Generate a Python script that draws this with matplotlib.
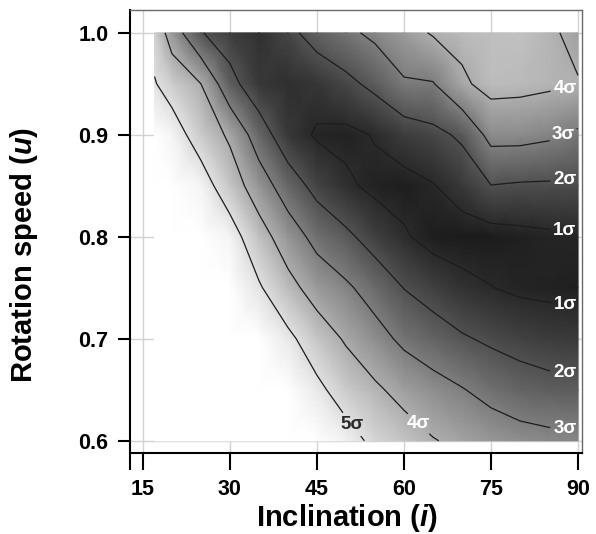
import numpy as np
import matplotlib.pyplot as plt
from matplotlib.colors import PowerNorm

plt.rcParams['font.family'] = ['Liberation Sans', 'DejaVu Sans']
plt.rcParams['font.weight'] = 'bold'
plt.rcParams['axes.labelweight'] = 'bold'
plt.rcParams['mathtext.fontset'] = 'custom'
plt.rcParams['mathtext.it'] = 'Liberation Sans:italic:bold'
plt.rcParams['mathtext.rm'] = 'Liberation Sans:bold'

# grid of the fit (sigma)
incl = [17, 20, 25, 30, 35, 40, 45, 50, 55, 60, 65, 70, 75, 80, 85, 90]
speed = [0.60, 0.65, 0.70, 0.75, 0.80, 0.85, 0.90, 0.95, 1.00]

sig_060 = [9.00, 8.80, 8.50, 8.10, 7.60, 6.90, 6.00, 5.35, 4.80, 4.45, 4.05, 3.80, 3.55, 3.35, 3.25, 3.20]
sig_065 = [8.60, 8.40, 8.10, 7.70, 7.10, 6.00, 5.20, 4.60, 4.15, 3.70, 3.35, 3.05, 2.70, 2.45, 2.30, 2.25]
sig_070 = [8.00, 7.90, 7.60, 7.10, 6.20, 5.20, 4.50, 3.90, 3.35, 2.80, 2.45, 2.10, 1.85, 1.65, 1.50, 1.45]
sig_075 = [7.50, 7.30, 6.90, 6.20, 5.10, 4.30, 3.60, 3.15, 2.60, 1.98, 1.60, 1.25, 1.02, 0.85, 0.80, 0.75]
sig_080 = [7.00, 6.80, 6.20, 5.40, 4.40, 3.50, 2.70, 2.20, 1.60, 1.10, 0.70, 0.60, 0.65, 0.75, 0.85, 0.90]
sig_085 = [6.30, 6.00, 5.40, 4.50, 3.50, 2.50, 1.70, 1.15, 0.80, 0.70, 0.95, 1.40, 1.98, 1.90, 1.88, 1.85]
sig_090 = [5.60, 5.40, 4.60, 3.85, 2.50, 1.40, 0.90, 0.80, 1.05, 1.50, 1.75, 2.15, 3.30, 3.30, 3.15, 2.85]
sig_095 = [5.05, 4.65, 4.00, 2.30, 1.40, 1.15, 1.35, 1.75, 2.25, 2.90, 2.95, 3.85, 4.30, 4.25, 4.15, 4.05]
sig_100 = [4.70, 3.55, 2.05, 1.55, 1.20, 1.75, 2.40, 2.80, 3.20, 3.65, 4.08, 4.25, 4.35, 4.40, 4.15, 3.75]

levels = [1, 2, 3, 4, 5]
xticks = [15, 30, 45, 60, 75, 90]
yticks = [0.6, 0.7, 0.8, 0.9, 1.0]

Z = np.array([sig_060, sig_065, sig_070, sig_075, sig_080,
              sig_085, sig_090, sig_095, sig_100])

fig = plt.figure(figsize=(5.96, 5.34), dpi=100)
ax = fig.add_axes([0.218, 0.152, 0.7585, 0.8295])
ax.set_xlim(12.76, 90.69)
ax.set_ylim(0.5882, 1.0225)

ax.grid(True, color='#d2d2d2', lw=1.0)
ax.set_axisbelow(True)

ax.pcolormesh(incl, speed, Z, shading='gouraud', cmap='gray',
              norm=PowerNorm(gamma=1.25, vmin=-0.4, vmax=5.6),
              zorder=1, rasterized=True)
cs = ax.contour(incl, speed, Z, levels=levels, colors='#1c1c1c',
                linewidths=0.9, zorder=2)

# label spots (data coords)
spots = [(87.8, 0.944), (87.8, 0.895), (87.8, 0.854), (87.8, 0.812),
         (87.8, 0.733), (87.8, 0.673), (87.8, 0.616),
         (51.0, 0.616), (62.4, 0.616)]
labels = ax.clabel(cs, inline=True, manual=spots, fontsize=13.5,
                   fmt=lambda v: '%dσ' % round(v), inline_spacing=3)
for t in labels:
    t.set_rotation(0)
    t.set_fontweight('bold')
    t.set_color('#2a2a2a' if t.get_text().startswith('5') else 'white')

ax.set_xticks(xticks)
ax.set_yticks(yticks)
ax.set_yticklabels(['%.1f' % v for v in yticks])
ax.set_xticks([12.76], minor=True)
ax.tick_params(axis='x', which='both', length=12.5, width=1.5, pad=6,
               labelsize=15.5)
ax.tick_params(axis='y', length=8.6, width=1.5, pad=7, labelsize=15.5)

for s in ['left', 'bottom']:
    ax.spines[s].set_linewidth(1.5)
    ax.spines[s].set_color('black')
for s in ['top', 'right']:
    ax.spines[s].set_linewidth(1.0)
    ax.spines[s].set_color('#6a6a6a')

ax.set_xlabel('Inclination ($\\mathit{i}$)', fontsize=21)
ax.xaxis.set_label_coords(0.481, -0.112)
ax.set_ylabel('Rotation speed ($\\mathit{u}$)', fontsize=21)
ax.yaxis.set_label_coords(-0.199, 0.447)

fig.savefig('out.png', dpi=100)
